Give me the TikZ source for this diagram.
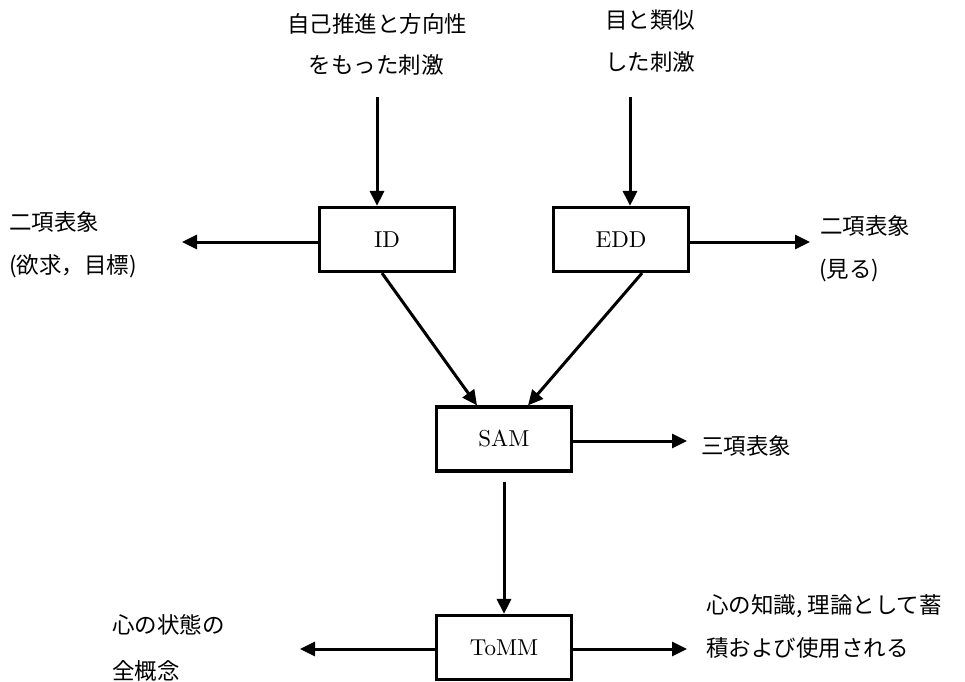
\documentclass[tikz,border=0pt]{standalone}
\usepackage{fontspec}
\newfontfamily\cjk{Noto Sans CJK JP}
\newfontfamily\lmr{lmroman10-regular.otf}
\usetikzlibrary{arrows.meta}
\begin{document}
\begin{tikzpicture}[x=1pt,y=-1pt,
  box/.style={draw, line width=3.2pt, minimum width=135pt, minimum height=64pt, inner sep=0pt, font=\lmr\fontsize{23}{27}\selectfont},
  arr/.style={line width=3pt, -{Triangle[length=15pt,width=14pt]}},
  jp/.style={font=\cjk\fontsize{22.5}{27}\selectfont, inner sep=0pt}]
\useasboundingbox (0,0) rectangle (965,681);
% boxes
\node[box] (ID) at (387,239.5) {ID};
\node[box] (EDD) at (621,239.5) {EDD};
\node[box] (SAM) at (504,439) {SAM};
\node[box] (ToMM) at (504,647.5) {ToMM};
% texts
\node[jp] (t1a) at (377,24) {自己推進と方向性};
\node[jp] (t1b) at (376,65) {をもった刺激};
\node[jp,anchor=west] (t2a) at (605,20) {目と類似};
\node[jp,anchor=west] (t2b) at (605,62) {した刺激};
\node[jp,anchor=west] (l1a) at (9,222) {二項表象};
\node[jp,anchor=west] (l1b) at (9,266) {(欲求，目標)};
\node[jp,anchor=west] (r1a) at (820,226) {二項表象};
\node[jp,anchor=west] (r1b) at (819,270) {(見る)};
\node[jp,anchor=west] (s1) at (701,446) {三項表象};
\node[jp,anchor=west] (b1) at (112,625) {心の状態の};
\node[jp,anchor=west] (b2) at (112,671) {全概念};
\node[jp,anchor=west] (r2a) at (706,606) {心の知識, 理論として蓄};
\node[jp,anchor=west] (r2b) at (706,648) {積および使用される};
% free ends
\coordinate (in1) at (377,97);
\coordinate (in2) at (630,97);
\coordinate (o1) at (182,242);
\coordinate (o2) at (810,242);
\coordinate (o3) at (687,441);
\coordinate (o4) at (300,649);
\coordinate (o5) at (687,649);
% connectors
\draw[arr] (in1) -- (in1 |- ID.north);
\draw[arr] (in2) -- (in2 |- EDD.north);
\draw[arr] (ID.west |- o1) -- (o1);
\draw[arr] (EDD.east |- o2) -- (o2);
\draw[arr] ([xshift=-5pt]ID.south) -- ([xshift=-27pt]SAM.north);
\draw[arr] ([xshift=21pt]EDD.south) -- ([xshift=24pt]SAM.north);
\draw[arr] (SAM.east |- o3) -- (o3);
\draw[arr] ([yshift=-9pt]SAM.south) -- (ToMM.north);
\draw[arr] (ToMM.west |- o4) -- (o4);
\draw[arr] (ToMM.east |- o5) -- (o5);
\end{tikzpicture}
\end{document}
